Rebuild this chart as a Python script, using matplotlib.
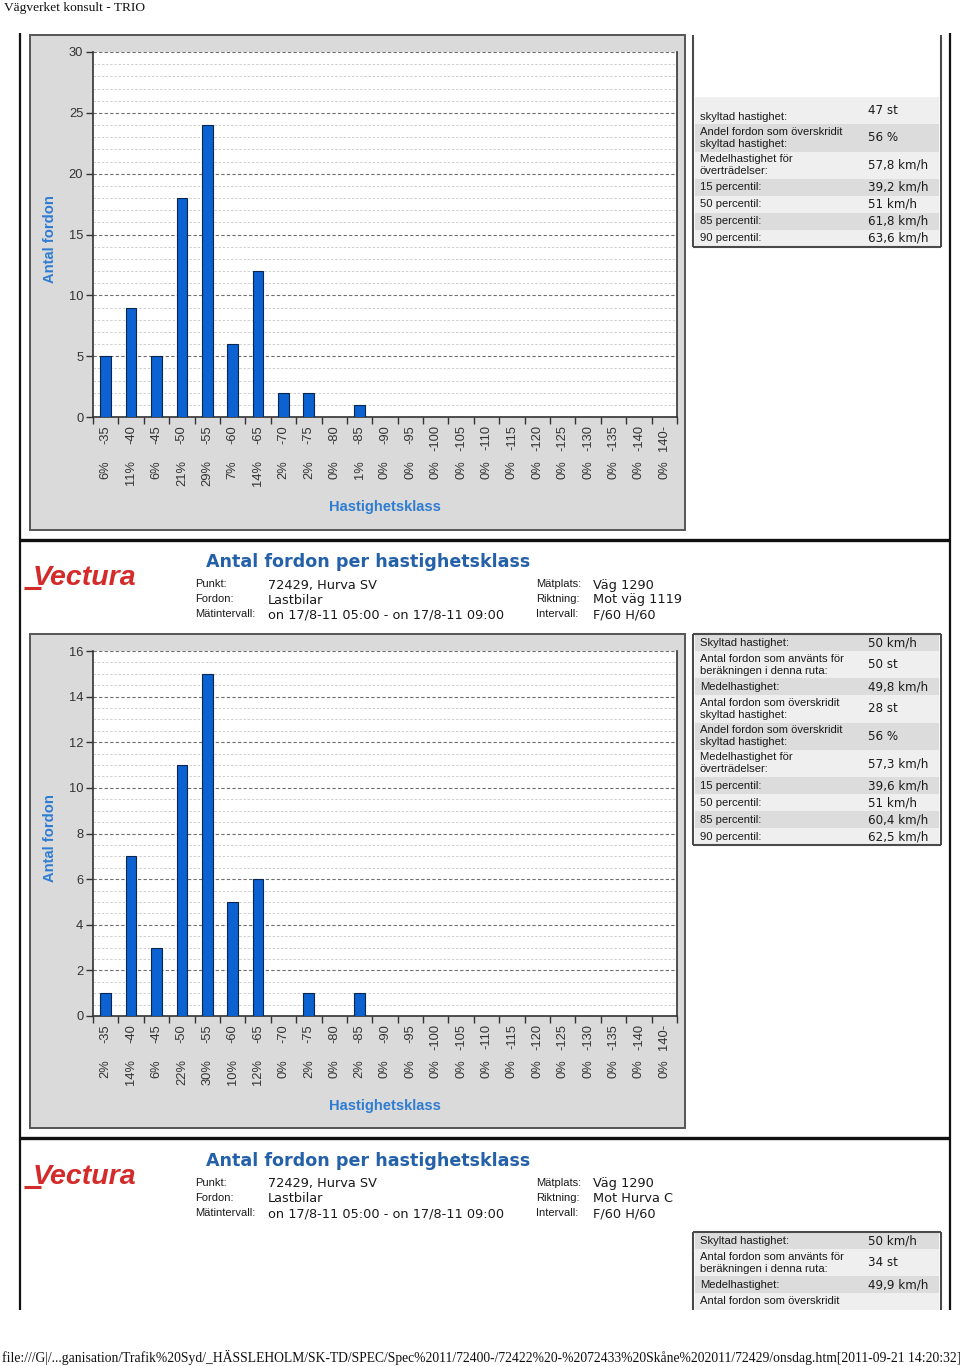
import numpy as np
import matplotlib
matplotlib.use('Agg')
import matplotlib.pyplot as plt
from matplotlib.patches import Rectangle
import matplotlib.transforms as mtransforms

W, H = 960, 1366

# ---------------- data ----------------
categories = ['-35', '-40', '-45', '-50', '-55', '-60', '-65', '-70', '-75', '-80', '-85',
              '-90', '-95', '-100', '-105', '-110', '-115', '-120', '-125', '-130', '-135',
              '-140', '140-']
counts_top = [5, 9, 5, 18, 24, 6, 12, 2, 2, 0, 1, 0, 0, 0, 0, 0, 0, 0, 0, 0, 0, 0, 0]
pct_top = ['6%', '11%', '6%', '21%', '29%', '7%', '14%', '2%', '2%', '0%', '1%', '0%',
           '0%', '0%', '0%', '0%', '0%', '0%', '0%', '0%', '0%', '0%', '0%']
counts_mid = [1, 7, 3, 11, 15, 5, 6, 0, 1, 0, 1, 0, 0, 0, 0, 0, 0, 0, 0, 0, 0, 0, 0]
pct_mid = ['2%', '14%', '6%', '22%', '30%', '10%', '12%', '0%', '2%', '0%', '2%', '0%',
           '0%', '0%', '0%', '0%', '0%', '0%', '0%', '0%', '0%', '0%', '0%']

table1_labels = [['', 'skyltad hastighet:'],
                 ['Andel fordon som överskridit', 'skyltad hastighet:'],
                 ['Medelhastighet för', 'överträdelser:'],
                 ['15 percentil:'], ['50 percentil:'], ['85 percentil:'], ['90 percentil:']]
table1_values = ['47 st', '56 %', '57,8 km/h', '39,2 km/h', '51 km/h', '61,8 km/h', '63,6 km/h']

table2_labels = [['Skyltad hastighet:'],
                 ['Antal fordon som använts för', 'beräkningen i denna ruta:'],
                 ['Medelhastighet:'],
                 ['Antal fordon som överskridit', 'skyltad hastighet:'],
                 ['Andel fordon som överskridit', 'skyltad hastighet:'],
                 ['Medelhastighet för', 'överträdelser:'],
                 ['15 percentil:'], ['50 percentil:'], ['85 percentil:'], ['90 percentil:']]
table2_values = ['50 km/h', '50 st', '49,8 km/h', '28 st', '56 %', '57,3 km/h',
                 '39,6 km/h', '51 km/h', '60,4 km/h', '62,5 km/h']

table3_labels = [['Skyltad hastighet:'],
                 ['Antal fordon som använts för', 'beräkningen i denna ruta:'],
                 ['Medelhastighet:'],
                 ['Antal fordon som överskridit', 'skyltad hastighet:']]
table3_values = ['50 km/h', '34 st', '49,9 km/h', '']

header_title = 'Antal fordon per hastighetsklass'
header_left_labels = ['Punkt:', 'Fordon:', 'Mätintervall:']
header_left_values = ['72429, Hurva SV', 'Lastbilar', 'on 17/8-11 05:00 - on 17/8-11 09:00']
header_right_labels = ['Mätplats:', 'Riktning:', 'Intervall:']
header1_right_values = ['Väg 1290', 'Mot väg 1119', 'F/60 H/60']
header2_right_values = ['Väg 1290', 'Mot Hurva C', 'F/60 H/60']

page_title = 'Vägverket konsult - TRIO'
footer = ('file:///G|/...ganisation/Trafik%20Syd/_HÄSSLEHOLM/SK-TD/SPEC/Spec%2011/'
          '72400-/72422%20-%2072433%20Skåne%202011/72429/onsdag.htm[2011-09-21 14:20:32]')

# ---------------- styles ----------------
SANS = ['Liberation Sans', 'DejaVu Sans']
WIDE = ['DejaVu Sans']
SERIF = ['Liberation Serif', 'DejaVu Serif']
BAR = '#0B62D0'
AXLBL = '#2F7CD3'
TITLE = '#2461A8'
DARKROW = '#DCDCDC'
LIGHTROW = '#EFEFEF'
PANEL = '#DADADA'

fig = plt.figure(figsize=(W / 100, H / 100), dpi=100)
bg = fig.add_axes([0, 0, 1, 1])
bg.set_xlim(0, W)
bg.set_ylim(H, 0)
bg.axis('off')


def px_axes(l, t, r, b):
    return fig.add_axes([l / W, 1 - b / H, (r - l) / W, (b - t) / H])


# page frame
bg.plot([20, 20], [33, 1310], color='#111111', lw=1.6, solid_capstyle='butt')
bg.plot([950, 950], [33, 1310], color='#111111', lw=1.6, solid_capstyle='butt')
for yy in (540, 1138):
    bg.plot([20, 950], [yy, yy], color='#111111', lw=2.4, solid_capstyle='butt')

bg.text(4, 8, page_title, family=SERIF, fontsize=9.6, va='center', ha='left', color='#111111')


def draw_chart(top, bottom, counts, pcts, ymax, major, minor, panel_top, panel_bottom):
    bg.add_patch(Rectangle((30, panel_top), 655, panel_bottom - panel_top,
                           facecolor=PANEL, edgecolor='#555555', lw=1.4))
    ax = px_axes(93, top, 677, bottom)
    ax.set_facecolor('white')
    x = np.arange(len(categories))
    ax.bar(x, counts, width=0.42, color=BAR, edgecolor='#0A2550', linewidth=0.8, zorder=3)
    ax.set_xlim(-0.5, len(categories) - 0.5)
    ax.set_ylim(0, ymax)
    ax.set_yticks(np.arange(0, ymax + 0.001, major))
    ax.set_yticks(np.arange(0, ymax + 0.001, minor), minor=True)
    ax.grid(which='minor', axis='y', color='#C9C9C9', linestyle=(0, (3, 2)), lw=0.6, zorder=1)
    ax.grid(which='major', axis='y', color='#707070', linestyle=(0, (3, 2)), lw=0.8, zorder=1)
    ax.set_xticks(np.arange(-0.5, len(categories), 1))
    ax.set_xticklabels([])
    ax.tick_params(axis='x', length=5, direction='out', color='#333333', width=1)
    ax.tick_params(axis='y', which='major', length=5, direction='out', color='#333333',
                   labelsize=9.3, labelcolor='#333333', pad=2, width=1)
    ax.tick_params(axis='y', which='minor', length=0)
    for lab in ax.get_yticklabels():
        lab.set_family(SANS)
    ax.spines['top'].set_visible(False)
    for s in ('left', 'bottom', 'right'):
        ax.spines[s].set_color('#333333')
        ax.spines[s].set_linewidth(1.2)
    trans = mtransforms.blended_transform_factory(ax.transData, fig.transFigure)
    for i, (c, p) in enumerate(zip(categories, pcts)):
        ax.text(i, 1 - (bottom + 8) / H, c, rotation=90, ha='center', va='top',
                transform=trans, fontsize=9.3, color='#333333', family=SANS)
        ax.text(i, 1 - (bottom + 43) / H, p, rotation=90, ha='center', va='top',
                transform=trans, fontsize=9.3, color='#333333', family=SANS)
    bg.text(50, (top + bottom) / 2 + 5, 'Antal fordon', rotation=90, ha='center', va='center',
            fontsize=10.6, weight='bold', color=AXLBL, family=SANS)
    bg.text(385, bottom + 90, 'Hastighetsklass', ha='center', va='center',
            fontsize=10.6, weight='bold', color=AXLBL, family=SANS)
    return ax


draw_chart(52, 417, counts_top, pct_top, 30, 5, 1, 35, 530)
draw_chart(651, 1016, counts_mid, pct_mid, 16, 2, 0.5, 634, 1128)


def draw_table(top, labels, values, first_idx, box_top, draw_top, clip_bottom=None):
    x0, x1 = 693, 941
    y = top
    for k, (lines, val) in enumerate(zip(labels, values)):
        h = 17 if len(lines) == 1 else 27.3
        hd = h if clip_bottom is None else min(h, clip_bottom - y)
        shade = DARKROW if (first_idx + k) % 2 == 0 else LIGHTROW
        bg.add_patch(Rectangle((695, y), 244, hd, facecolor=shade, edgecolor='none'))
        if len(lines) == 1:
            offs = [8.5]
        else:
            offs = [7.5, 19.5]
        for line, o in zip(lines, offs):
            if clip_bottom is not None and y + o > clip_bottom - 4:
                continue
            bg.text(700, y + o, line, fontsize=8.1, va='center', ha='left', color='#1A1A1A',
                    family=SANS)
        if val:
            bg.text(868, y + h / 2, val, fontsize=8.6, va='center', ha='left', color='#1A1A1A',
                    family=WIDE)
        y += h
    bottom = y if clip_bottom is None else clip_bottom
    kw = dict(color='#4A4A4A', lw=1.5, solid_capstyle='butt')
    bg.plot([x0, x0], [box_top, bottom], **kw)
    bg.plot([x1, x1], [box_top, bottom], **kw)
    if draw_top:
        bg.plot([x0, x1], [box_top, box_top], **kw)
    if clip_bottom is None:
        bg.plot([x0, x1], [bottom, bottom], **kw)


draw_table(97, table1_labels, table1_values, 3, 35, False)
draw_table(634, table2_labels, table2_values, 0, 634, True)
draw_table(1232, table3_labels, table3_values, 0, 1232, True, clip_bottom=1310)


def draw_header(top, right_values):
    # logo
    bg.text(33, top + 38, 'Vectura', fontsize=20.5, style='italic', weight='bold',
            color='#D42A2A', family=SANS, va='center', ha='left')
    bg.plot([24, 41], [top + 48, top + 48], color='#D42A2A', lw=2.2, solid_capstyle='butt')
    bg.text(206, top + 22, header_title, fontsize=12.6, weight='bold', color=TITLE,
            family=WIDE, va='center', ha='left')
    for j in range(3):
        yy = top + 44 + 15 * j
        bg.text(195, yy, header_left_labels[j], fontsize=8, family=SANS, va='center',
                color='#1A1A1A')
        bg.text(268, yy + 1, header_left_values[j], fontsize=9.3, family=WIDE, va='center',
                color='#1A1A1A')
        bg.text(536, yy, header_right_labels[j], fontsize=8, family=SANS, va='center',
                color='#1A1A1A')
        bg.text(593, yy + 1, right_values[j], fontsize=9.3, family=WIDE, va='center',
                color='#1A1A1A')


draw_header(540, header1_right_values)
draw_header(1139, header2_right_values)

ft = bg.text(2, 1357, footer, family=SERIF, fontsize=9, va='center', ha='left', color='#111111')
fig.canvas.draw()
wpx = ft.get_window_extent().width
ft.set_fontsize(9 * 956 / wpx)

fig.savefig('out.png', dpi=100)
